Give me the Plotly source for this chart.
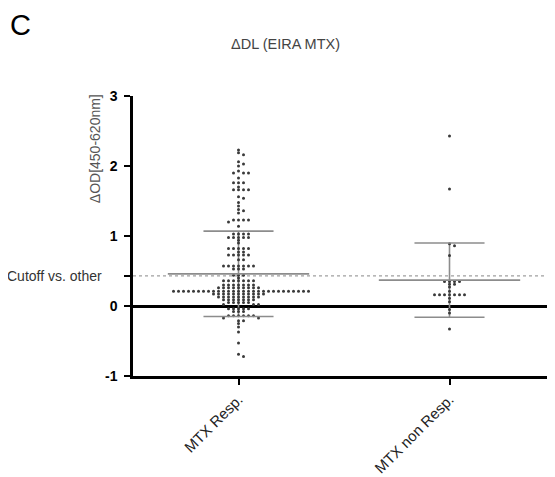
import plotly.graph_objects as go

# ---------------- data ----------------
categories = ["MTX Resp.", "MTX non Resp."]

resp_values = [
    2.23, 2.19, 2.16, 2.06, 2.03, 2.00, 1.93, 1.90, 1.90, 1.90, 1.83,
    1.76, 1.76, 1.76, 1.70, 1.66, 1.66, 1.66, 1.66, 1.56, 1.54, 1.48,
    1.43, 1.38, 1.36, 1.33, 1.23, 1.23, 1.23, 1.23, 1.20, 1.14,
    1.03, 1.03, 1.03, 1.03, 0.98, 0.98, 0.98, 0.98, 0.98,
    0.94, 0.90, 0.82, 0.82, 0.82, 0.82, 0.82, 0.77, 0.77,
    0.73, 0.73, 0.73, 0.73, 0.73, 0.66, 0.66,
    0.57, 0.57, 0.57, 0.57, 0.57, 0.57, 0.57, 0.53, 0.53, 0.53,
    0.44, 0.44, 0.44, 0.40,
    0.36, 0.36, 0.36, 0.36, 0.36, 0.36, 0.36,
    0.30, 0.30, 0.30, 0.30, 0.30, 0.30, 0.30,
    0.26, 0.26, 0.26, 0.26, 0.26, 0.26, 0.26, 0.26, 0.26,
    0.21, 0.21, 0.21, 0.21, 0.21, 0.21, 0.21, 0.21, 0.21, 0.21,
    0.21, 0.21, 0.21, 0.21, 0.21, 0.21, 0.21, 0.21, 0.21, 0.21,
    0.21, 0.21, 0.21, 0.21, 0.21, 0.21, 0.21, 0.21,
    0.17, 0.17, 0.17, 0.17, 0.17, 0.17, 0.17, 0.17, 0.17, 0.17, 0.17,
    0.13, 0.13, 0.13, 0.13, 0.13, 0.13, 0.13, 0.13, 0.13,
    0.09, 0.09, 0.09, 0.09, 0.09, 0.09, 0.09,
    0.05, 0.05, 0.05, 0.05, 0.05, 0.02, 0.02, 0.02,
    -0.04, -0.04, -0.04, -0.04, -0.04, -0.08, -0.08, -0.08,
    -0.14, -0.14, -0.14, -0.14, -0.14, -0.14, -0.17, -0.17,
    -0.21, -0.21, -0.25, -0.30, -0.37, -0.53, -0.69, -0.72,
]

nonresp_values = [
    2.43, 1.67, 0.89, 0.86, 0.72,
    0.35, 0.35, 0.35, 0.35, 0.31, 0.31, 0.27, 0.21,
    0.16, 0.16, 0.16, 0.16, 0.16, 0.16, 0.16,
    0.11, 0.06, -0.05, -0.10, -0.33,
]

group_means = [0.46, 0.37]
group_sds = [0.61, 0.53]

cutoff_value = 0.43
cutoff_label = "Cutoff vs. other"

y_tick_values = [-1, 0, 1, 2, 3]

title_text = "ΔDL (EIRA MTX)"
y_title = "ΔOD[450-620nm]"
panel_letter = "C"

# ---------------- layout constants ----------------
OFF = 8  # page body offset (px)
W, H = 555, 477
M_L, M_T = 133 - OFF, 96 - OFF
M_R = OFF
M_B = H - (376 - OFF)
PLOT_W = W - M_L - M_R
PLOT_H = H - M_T - M_B
X_RANGE = [-0.5, 1.5]
Y_RANGE = [-1, 3]
px_per_x = PLOT_W / (X_RANGE[1] - X_RANGE[0])
px_per_y = PLOT_H / (Y_RANGE[1] - Y_RANGE[0])

DOT_DX = 5.0   # px horizontal spacing
DOT_DY = 2.7   # px vertical collision distance


def swarm_offsets(values):
    """Greedy beeswarm: horizontal offsets (data units) for each value."""
    order = sorted(range(len(values)), key=lambda i: -values[i])
    placed = []
    offs = [0.0] * len(values)
    for i in order:
        y_px = values[i] * px_per_y
        k = 0
        while True:
            cands = [0] if k == 0 else [k, -k]
            done = False
            for c in cands:
                x_px = c * DOT_DX
                ok = True
                for (px, py) in placed:
                    if abs(py - y_px) < DOT_DY and abs(px - x_px) < DOT_DX - 0.3:
                        ok = False
                        break
                if ok:
                    placed.append((x_px, y_px))
                    offs[i] = x_px / px_per_x
                    done = True
                    break
            if done:
                break
            k += 1
    return offs


fig = go.Figure()

groups = [resp_values, nonresp_values]
MEAN_HALF = 0.335
SD_HALF = 0.166
line_col = "#8c8c8c"

fig.add_trace(go.Scatter(
    x=[X_RANGE[0], X_RANGE[1]], y=[cutoff_value, cutoff_value], mode="lines",
    line=dict(color="#a0a0a0", width=1.2, dash="dot"), hoverinfo="skip", showlegend=False))

for gi, vals in enumerate(groups):
    offs = swarm_offsets(vals)
    m = group_means[gi]
    s = group_sds[gi]
    fig.add_trace(go.Scatter(
        x=[gi, gi], y=[m - s, m + s], mode="lines",
        line=dict(color=line_col, width=1.6), showlegend=False, hoverinfo="skip"))
    fig.add_trace(go.Scatter(
        x=[gi + o for o in offs], y=vals, mode="markers",
        marker=dict(size=3.0, color="#3a3a3a"), showlegend=False))
    fig.add_trace(go.Scatter(
        x=[gi - MEAN_HALF, gi + MEAN_HALF], y=[m, m], mode="lines",
        line=dict(color=line_col, width=1.8), showlegend=False, hoverinfo="skip"))
    for yy in (m - s, m + s):
        fig.add_trace(go.Scatter(
            x=[gi - SD_HALF, gi + SD_HALF], y=[yy, yy], mode="lines",
            line=dict(color=line_col, width=1.6), showlegend=False, hoverinfo="skip"))

y_tickvals = y_tick_values + [cutoff_value]
y_ticktext = [f"<b>{v}</b>" for v in y_tick_values] + [""]

fig.update_layout(
    width=W, height=H,
    margin=dict(l=M_L, r=M_R, t=M_T, b=M_B, pad=0),
    paper_bgcolor="white", plot_bgcolor="white",
    font=dict(family="Liberation Sans, Arial", color="#222"),
    showlegend=False,
    xaxis=dict(
        range=X_RANGE, tickmode="array",
        tickvals=list(range(len(categories))), ticktext=categories,
        tickangle=-45, tickfont=dict(size=15, color="#222"),
        showline=True, linecolor="black", linewidth=2.5,
        ticks="outside", ticklen=6, tickwidth=2, tickcolor="black",
        showgrid=False, zeroline=False,
    ),
    yaxis=dict(
        range=Y_RANGE, tickmode="array",
        tickvals=y_tickvals, ticktext=y_ticktext,
        tickfont=dict(size=14, color="black"),
        showline=True, linecolor="black", linewidth=2.5,
        ticks="outside", ticklen=6, tickwidth=2, tickcolor="black",
        ticklabelstandoff=4,
        showgrid=False, zeroline=True, zerolinecolor="black", zerolinewidth=2.5,
    ),
)

fig.add_annotation(
    text=cutoff_label, xref="paper", yref="y",
    x=(104 - 133) / PLOT_W, y=cutoff_value, xanchor="right", yanchor="middle",
    showarrow=False, font=dict(size=14, color="#333"))

fig.add_annotation(
    text=y_title, xref="paper", yref="y",
    x=(95 - 133) / PLOT_W, y=2.24, textangle=-90,
    xanchor="center", yanchor="middle",
    showarrow=False, font=dict(size=14, color="#555"))

fig.add_annotation(
    text=title_text, xref="paper", yref="paper",
    x=(285 - 133) / PLOT_W, y=1 + (96 - 44) / PLOT_H,
    xanchor="center", yanchor="middle",
    showarrow=False, font=dict(size=14.5, color="#444"))

fig.add_annotation(
    text=panel_letter, xref="paper", yref="paper",
    x=(20 - 133) / PLOT_W, y=1 + (96 - 25) / PLOT_H,
    xanchor="center", yanchor="middle",
    showarrow=False, font=dict(size=29, color="black"))

fig.write_html("out.html")
